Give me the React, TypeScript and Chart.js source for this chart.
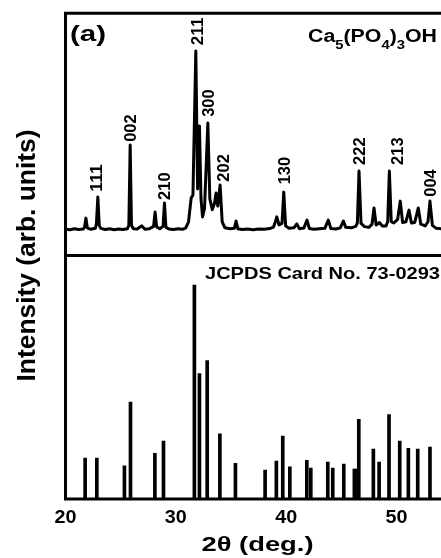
import React, { useEffect, useRef } from "react";
import { Chart, registerables } from "chart.js";

Chart.register(...registerables);

// ---- Measured XRD pattern (top panel), 2θ in degrees, intensity in arb. units ----
const xrdTheta = [
  20.0, 20.4, 20.8, 21.2, 21.6, 21.72, 21.85, 21.98, 22.3, 22.7, 22.8, 22.93, 23.06, 23.2, 23.6, 24.0,
  24.4, 24.8, 25.2, 25.6, 25.74, 25.86, 25.98, 26.15, 26.5, 26.9, 27.2, 27.6, 27.98, 28.12, 28.26, 28.55,
  28.84, 28.97, 29.1, 29.4, 29.8, 30.2, 30.6, 30.9, 31.15, 31.39, 31.55, 31.81, 31.97, 32.14, 32.28, 32.42,
  32.6, 32.9, 33.08, 33.3, 33.5, 33.65, 33.8, 34.01, 34.2, 34.45, 34.9, 35.3, 35.46, 35.62, 36.0, 36.5,
  37.0, 37.5, 38.0, 38.5, 38.85, 39.02, 39.15, 39.35, 39.62, 39.78, 39.95, 40.25, 40.7, 40.96, 41.2, 41.6,
  41.89, 42.1, 42.5, 43.0, 43.5, 43.82, 44.05, 44.5, 44.9, 45.18, 45.4, 45.9, 46.3, 46.45, 46.6, 46.78,
  47.1, 47.5, 47.78, 47.96, 48.15, 48.45, 48.7, 49.05, 49.2, 49.35, 49.52, 49.75, 50.1, 50.34, 50.55, 50.85,
  51.13, 51.35, 51.65, 51.97, 52.2, 52.6, 52.85, 53.03, 53.25, 53.6, 54.1,
];
const xrdIntensity = [
  11.4, 11.2, 11.6, 11.3, 11.5, 12.2, 16.0, 12.0, 11.4, 11.8, 13.5, 24.7, 13.0, 11.8, 11.3, 11.6,
  11.2, 11.5, 11.3, 11.6, 13.0, 46.1, 13.0, 11.6, 11.5, 12.8, 11.4, 11.6, 12.6, 18.5, 12.4, 11.6,
  12.6, 22.2, 12.2, 11.5, 11.3, 11.6, 11.4, 12.0, 14.5, 24.3, 25.5, 84.8, 28.0, 53.9, 24.0, 16.5,
  20.0, 55.1, 24.0, 19.5, 22.0, 26.3, 21.0, 29.6, 14.5, 12.0, 11.6, 11.8, 14.8, 11.6, 11.3, 11.5,
  11.2, 11.5, 11.4, 11.7, 12.3, 14.5, 16.5, 13.2, 13.8, 26.7, 12.8, 11.8, 12.0, 13.6, 11.6, 11.9,
  15.2, 11.7, 11.4, 11.6, 11.8, 15.2, 11.7, 11.5, 12.0, 14.8, 12.2, 12.0, 12.6, 14.0, 35.4, 13.8,
  12.5, 12.2, 13.5, 20.2, 13.2, 14.2, 12.8, 12.8, 14.5, 35.4, 14.5, 14.0, 15.5, 23.0, 14.2, 14.5,
  19.3, 14.0, 14.2, 20.2, 13.5, 12.8, 14.5, 23.0, 13.0, 11.8, 11.6,
];

// ---- Peak (hkl) labels ----
const peakLabels = ["111", "002", "210", "211", "300", "202", "130", "222", "213", "004"];
const peakLabelTheta = [22.78, 25.86, 28.94, 31.9, 32.95, 34.31, 39.75, 46.6, 50.02, 53.03];
const peakLabelLevel = [26.9, 47.4, 23.5, 87.2, 57.7, 31.0, 29.9, 37.9, 37.9, 24.8];

// ---- JCPDS 73-0293 reference lines (bottom panel), relative intensity % ----
const stickTheta = [
  21.78, 22.84, 25.34, 25.89, 28.1, 28.88, 31.68, 32.14, 32.84, 33.99, 35.4, 38.09, 39.11, 39.69, 40.33,
  41.87, 42.23, 43.77, 44.22, 45.22, 46.18, 46.33, 46.58, 47.9, 48.42, 49.32, 50.29, 51.07, 51.92, 53.03,
];
const stickIntensity = [
  19.1, 19.1, 15.5, 45.3, 21.4, 27.1, 100, 58.6, 64.7, 30.4, 16.7, 13.5, 17.7, 29.4, 15.0,
  18.1, 14.4, 17.2, 14.4, 16.3, 14.0, 14.0, 37.2, 23.3, 17.2, 39.5, 27.1, 23.7, 23.3, 24.3,
];

const xTicks = [20, 30, 40, 50];
const formulaParts = [
  { t: "Ca", sub: false },
  { t: "5", sub: true },
  { t: "(PO", sub: false },
  { t: "4", sub: true },
  { t: ")", sub: false },
  { t: "3", sub: true },
  { t: "OH", sub: false },
];

const FAMILY = '"Liberation Sans", Arial, Helvetica, sans-serif';

function drawText(
  ctx: CanvasRenderingContext2D,
  s: string,
  x: number,
  y: number,
  size: number,
  opts: { w?: number; rot?: boolean; align?: CanvasTextAlign } = {}
) {
  ctx.save();
  ctx.font = `bold ${size}px ${FAMILY}`;
  const nat = ctx.measureText(s).width;
  const sx = opts.w ? opts.w / nat : 1;
  ctx.translate(x, y);
  if (opts.rot) ctx.rotate(-Math.PI / 2);
  ctx.scale(sx, 1);
  ctx.textAlign = opts.align || "left";
  ctx.textBaseline = "alphabetic";
  ctx.fillStyle = "#000";
  ctx.fillText(s, 0, 0);
  ctx.restore();
}

const decorPlugin = {
  id: "decor",
  afterDatasetsDraw(chart: any) {
    const ctx: CanvasRenderingContext2D = chart.ctx;
    const { left, top, bottom } = chart.chartArea;
    const xs = chart.scales.x;
    const yTop = chart.scales.yTop;
    const W = chart.width;

    ctx.save();
    ctx.strokeStyle = "#000";
    ctx.lineWidth = 3;
    ctx.lineCap = "butt";
    const divY = yTop.getPixelForValue(0) - 1.5;
    ctx.beginPath();
    ctx.moveTo(left, top - 1.5);
    ctx.lineTo(left, bottom + 1.5);
    ctx.moveTo(left - 1.5, top);
    ctx.lineTo(W, top);
    ctx.moveTo(left - 1.5, divY);
    ctx.lineTo(W, divY);
    ctx.moveTo(left - 1.5, bottom);
    ctx.lineTo(W, bottom);
    ctx.stroke();
    ctx.restore();

    xTicks.forEach((v) => {
      drawText(ctx, String(v), xs.getPixelForValue(v), 523, 18, { w: 22, align: "center" });
    });

    drawText(ctx, "2θ (deg.)", 257.5, 550.5, 21, { w: 112, align: "center" });
    drawText(ctx, "Intensity (arb. units)", 34.5, 255.5, 26, { w: 252, rot: true, align: "center" });

    drawText(ctx, "(a)", 70, 40.5, 22, { w: 36 });
    drawText(ctx, "JCPDS Card No. 73-0293", 205, 279, 17, { w: 235 });

    ctx.save();
    const mainSize = 18;
    const subSize = 12.5;
    let total = 0;
    formulaParts.forEach((p) => {
      ctx.font = `bold ${p.sub ? subSize : mainSize}px ${FAMILY}`;
      total += ctx.measureText(p.t).width;
    });
    const sx = 129 / total;
    let cx = 308;
    formulaParts.forEach((p) => {
      const size = p.sub ? subSize : mainSize;
      ctx.font = `bold ${size}px ${FAMILY}`;
      const w = ctx.measureText(p.t).width * sx;
      drawText(ctx, p.t, cx, p.sub ? 49 : 41.7, size, { w });
      cx += w;
    });
    ctx.restore();

    peakLabels.forEach((lab, i) => {
      const px = xs.getPixelForValue(peakLabelTheta[i]);
      const py = yTop.getPixelForValue(peakLabelLevel[i]);
      drawText(ctx, lab, px + 0.358 * 17, py, 17, { w: 27.5, rot: true, align: "left" });
    });
  },
};

export default function App() {
  const canvasRef = useRef<HTMLCanvasElement | null>(null);

  useEffect(() => {
    if (!canvasRef.current) return;
    const xrdData = xrdTheta.map((t, i) => ({ x: t, y: xrdIntensity[i] }));
    const stickData = stickTheta.map((t, i) => ({ x: t, y: stickIntensity[i] }));

    const chart = new Chart(canvasRef.current, {
      type: "bar",
      data: {
        datasets: [
          {
            type: "line",
            label: "Ca5(PO4)3OH",
            data: xrdData,
            yAxisID: "yTop",
            borderColor: "#000",
            borderWidth: 3,
            pointRadius: 0,
            tension: 0,
            borderJoinStyle: "round",
            fill: false,
          } as any,
          {
            type: "bar",
            label: "JCPDS 73-0293",
            data: stickData,
            yAxisID: "yBot",
            backgroundColor: "#000",
            borderWidth: 0,
            barThickness: 3,
            grouped: false,
          } as any,
        ],
      },
      options: {
        responsive: false,
        animation: false,
        devicePixelRatio: 1,
        layout: { padding: { left: 65.5, top: 13.3, right: 0, bottom: 59 } },
        plugins: { legend: { display: false }, tooltip: { enabled: false } },
        scales: {
          x: { type: "linear", min: 20, max: 54.03, offset: false, display: false },
          yTop: { type: "linear", min: -99.6, max: 100.3, display: false },
          yBot: { type: "linear", min: 0, max: 227, display: false },
        },
      },
      plugins: [decorPlugin],
    });
    return () => chart.destroy();
  }, []);

  return (
    <div style={{ position: "fixed", left: 0, top: 0, width: 441, height: 558, background: "#fff" }}>
      <canvas ref={canvasRef} width={441} height={558} style={{ display: "block" }} />
    </div>
  );
}
